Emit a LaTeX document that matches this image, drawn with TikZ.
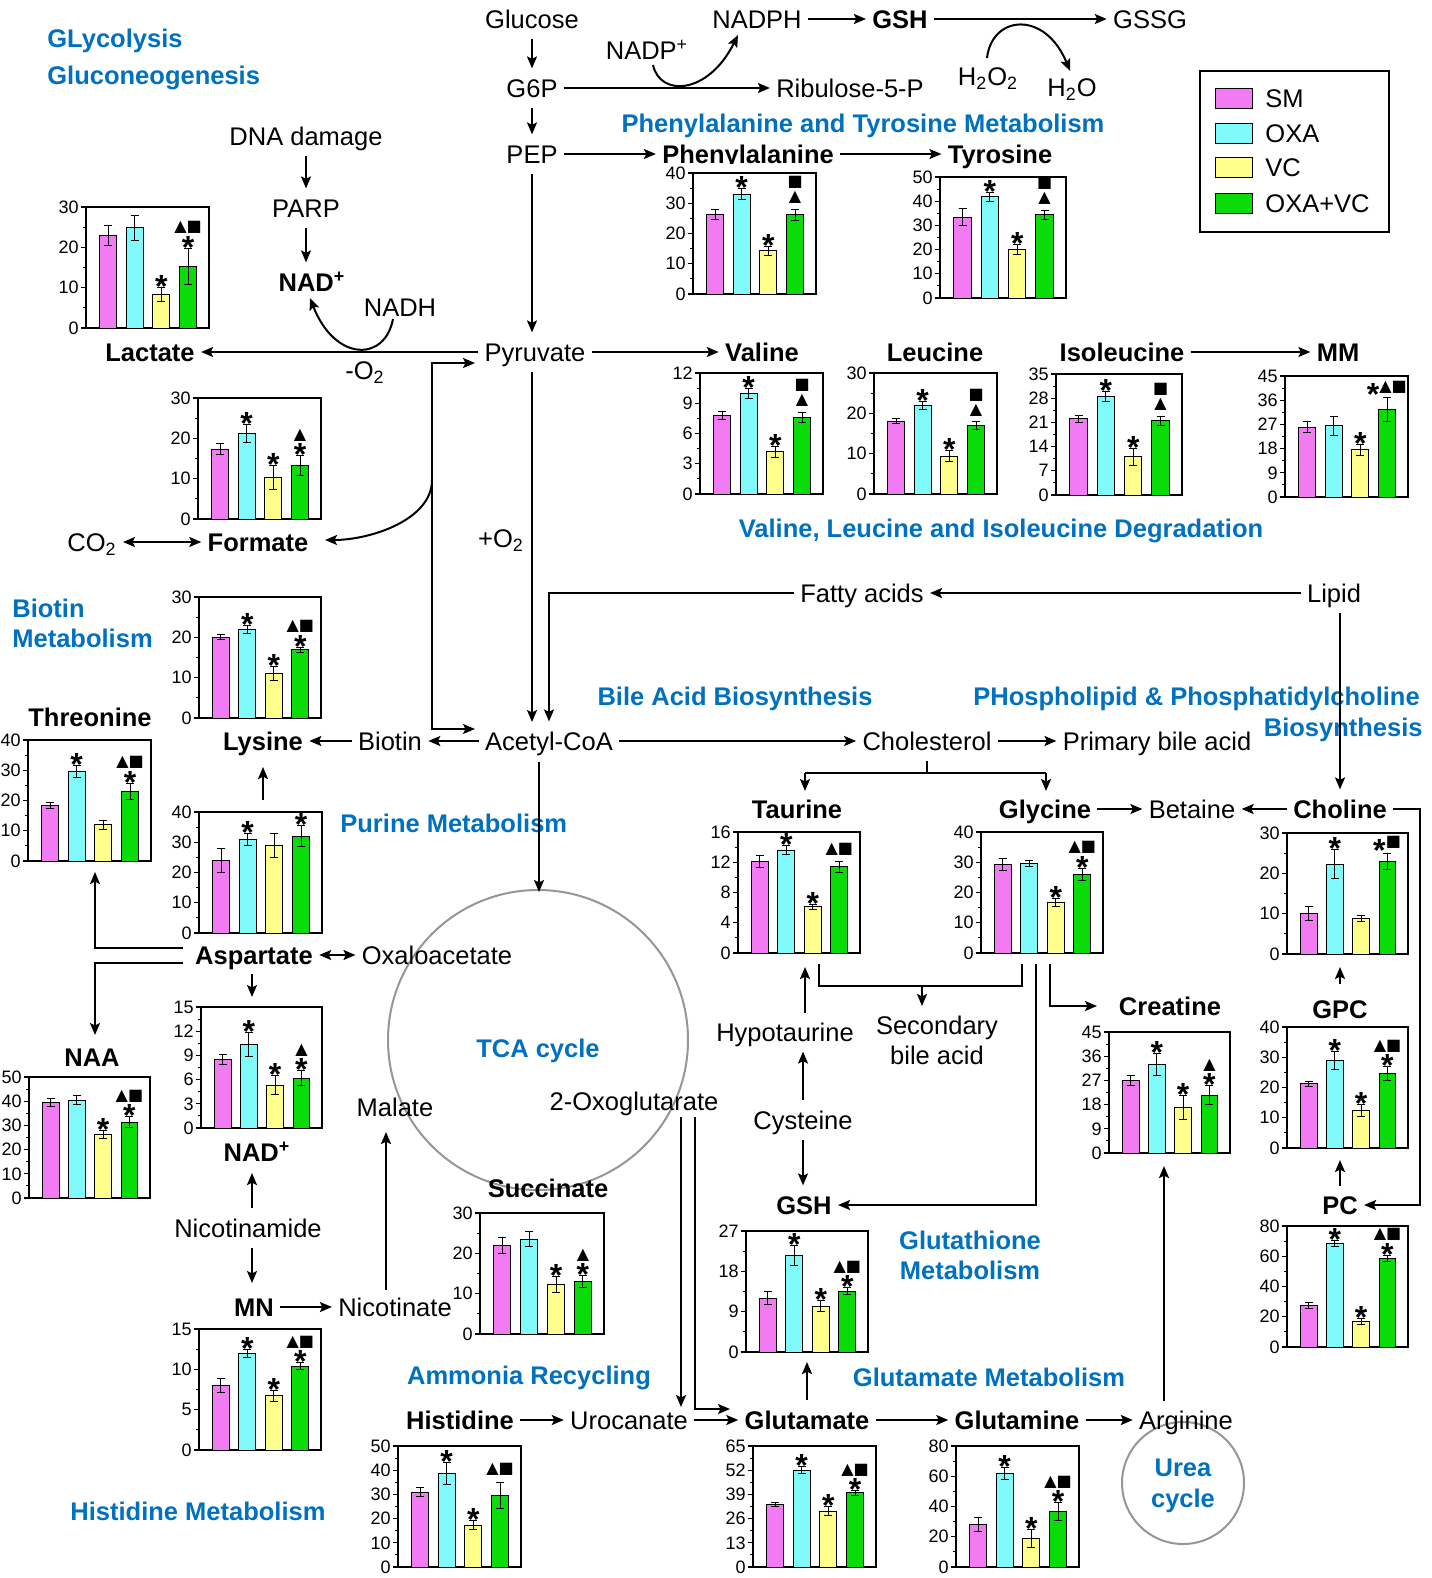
\documentclass[tikz,border=0pt]{standalone}
\usepackage{fontspec}
\setmainfont{Liberation Sans}
\newfontfamily\dejavu{DejaVu Sans}
\usetikzlibrary{arrows.meta}
\definecolor{bar0}{RGB}{242,122,242}
\definecolor{bar1}{RGB}{128,250,250}
\definecolor{bar2}{RGB}{255,255,140}
\definecolor{bar3}{RGB}{10,220,10}
\definecolor{pblue}{RGB}{0,112,192}
\definecolor{cgray}{RGB}{150,150,150}
\newcommand\fL{\fontsize{12.75pt}{15pt}\selectfont}
\newcommand\fT{\fontsize{9pt}{10pt}\selectfont}
\newcommand\fS{\fontsize{16pt}{16pt}\selectfont\bfseries}
\newcommand\fY{\dejavu\fontsize{8pt}{8pt}\selectfont}
\newcommand\annn{}
\newcommand\anns{\node[starn] at (\bcx,\beh+10) {*};}
\newcommand\annS{\anns\node[symn] at (\bcx,\beh-14) {▲■};}
\newcommand\annT{\anns\node[symn] at (\bcx,\beh-14) {▲};}
\newcommand\annQ{\node[symn] at (\bcx,\beh-5) {▲};\node[symn] at (\bcx,\beh-20) {■};}
\newcommand\annA{\node[symn] at (\bcx,\beh-6) {▲■};}
\newcommand\annH{\node[starn] at (\bcx-14,\beh+8) {*};\node[symn] at (\bcx+6,\beh-4) {▲■};}
\newcommand\annC{\node[starn] at (\bcx-8,\beh+8) {*};\node[symn] at (\bcx+6,\beh-4) {■};}
\newcommand\chart[7]{%
\begin{scope}[shift={(#2,#3)}]
 \node[draw, line width=0.6pt, minimum width=#4*0.5pt, minimum height=60.5pt, inner sep=0pt, outer sep=0pt] (#1) at (#4/2,60.5) {};
 \pgfmathtruncatemacro\nmaj{round(#5/#6)}
 \foreach \kk in {0,...,\nmaj}{
   \pgfmathsetmacro\tky{121-\kk*#6/#5*121}
   \pgfmathtruncatemacro\tklab{\kk*#6}
   \draw[line width=0.6pt] (0,\tky) -- (-5,\tky);
   \node[tickn] at (-7,\tky) {\tklab};
 }
 \foreach \kk in {1,...,\nmaj}{
   \pgfmathsetmacro\tky{121-(\kk-0.5)*#6/#5*121}
   \draw[line width=0.5pt] (0,\tky) -- (-3,\tky);
 }
 \foreach \vv/\ee/\an [count=\ii from 0] in {#7}{
   \pgfmathsetmacro\bbx{#4*13.5/123+\ii*#4*26.7/123}
   \pgfmathsetmacro\bbw{#4*17/123}
   \pgfmathsetmacro\bby{121-\vv/#5*121}
   \pgfmathsetmacro\beh{121-(\vv+\ee)/#5*121}
   \pgfmathsetmacro\bel{121-(\vv-\ee)/#5*121}
   \pgfmathsetmacro\bcx{\bbx+\bbw/2}
   \draw[line width=0.5pt, fill=bar\ii] (\bbx,121) rectangle (\bbx+\bbw,\bby);
   \draw[line width=0.5pt] (\bcx,\bel) -- (\bcx,\beh) (\bcx-4,\beh) -- (\bcx+4,\beh) (\bcx-4,\bel) -- (\bcx+4,\bel);
   \csname ann\an\endcsname
 }
\end{scope}}
\begin{document}
\begin{tikzpicture}[x=0.5pt,y=-0.5pt,
  lab/.style={font=\fL, text height=9.2pt, text depth=0pt, inner xsep=3pt, inner ysep=5pt},
  blab/.style={lab, font=\fL\bfseries},
  pw/.style={font=\fL\bfseries, text=pblue, inner sep=0pt, text height=9.2pt, text depth=0pt},
  arr/.style={line width=1pt, -{Stealth[length=6pt,width=5pt,inset=1.2pt]}},
  barr/.style={line width=1pt, {Stealth[length=6pt,width=5pt,inset=1.2pt]}-{Stealth[length=6pt,width=5pt,inset=1.2pt]}},
  ln/.style={line width=1pt},
  tickn/.style={anchor=east, inner sep=0pt, font=\fT},
  starn/.style={anchor=base, inner sep=0pt, font=\fS},
  symn/.style={anchor=south, inner sep=0pt, font=\fY}]
\fill[white] (0,0) rectangle (1431,1578);
\useasboundingbox (0,0) rectangle (1431,1578);
% circles
\draw[cgray, line width=1pt] (538,1040) circle [radius=150];
\draw[cgray, line width=1pt] (1183,1483) circle [radius=61];
% labels
\node[lab] (glucose) at (532,19) {Glucose};
\node[lab] (g6p) at (532,88) {G6P};
\node[lab] (pep) at (532,154) {PEP};
\node[lab] (ribu) at (850,88) {Ribulose-5-P};
\node[lab] (nadp) at (647,50) {NADP\textsuperscript{+}};
\node[lab] (nadph) at (757,19) {NADPH};
\node[blab] (gshA) at (900,19) {GSH};
\node[lab] (gssg) at (1150,19) {GSSG};
\node[lab] (hoo) at (988,76) {H\textsubscript{2}O\textsubscript{2}};
\node[lab] (ho) at (1072,87) {H\textsubscript{2}O};
\node[pw] (pwphe) at (863,123) {Phenylalanine and Tyrosine Metabolism};
\node[blab] (phe) at (748,154) {Phenylalanine};
\node[blab] (tyr) at (1000,154) {Tyrosine};
\node[pw, anchor=west] (pwgly1) at (47,38) {GLycolysis};
\node[pw, anchor=west] (pwgly2) at (47,75) {Gluconeogenesis};
\node[lab] (dna) at (306,136) {DNA damage};
\node[lab] (parp) at (306,208) {PARP};
\node[blab] (nadA) at (312,282) {NAD\textsuperscript{+}};
\node[lab] (nadh) at (400,307) {NADH};
\node[lab] (pyr) at (535,352) {Pyruvate};
\node[blab] (lac) at (150,352) {Lactate};
\node[lab] (mo2) at (365,370) {-O\textsubscript{2}};
\node[blab] (val) at (762,352) {Valine};
\node[blab] (leu) at (935,352) {Leucine};
\node[blab] (ile) at (1122,352) {Isoleucine};
\node[blab] (mm) at (1338,352) {MM};
\node[pw] (pwbcaa) at (1001,528) {Valine, Leucine and Isoleucine Degradation};
\node[lab] (co2) at (92,542) {CO\textsubscript{2}};
\node[blab] (form) at (258,542) {Formate};
\node[lab] (po2) at (501,538) {+O\textsubscript{2}};
\node[lab] (fatty) at (862,593) {Fatty acids};
\node[lab] (lipid) at (1334,593) {Lipid};
\node[pw, anchor=west] (pwbio1) at (12,608) {Biotin};
\node[pw, anchor=west] (pwbio2) at (12,638) {Metabolism};
\node[pw] (pwbile) at (735,696) {Bile Acid Biosynthesis};
\node[pw, anchor=west] (pwpl1) at (973,696) {PHospholipid \& Phosphatidylcholine};
\node[pw, anchor=east] (pwpl2) at (1423,727) {Biosynthesis};
\node[blab] (thr) at (90,717) {Threonine};
\node[blab] (lys) at (263,741) {Lysine};
\node[lab] (biotin) at (390,741) {Biotin};
\node[lab] (acoa) at (549,741) {Acetyl-CoA};
\node[lab] (chol) at (927,741) {Cholesterol};
\node[lab] (pba) at (1157,741) {Primary bile acid};
\node[pw, anchor=west] (pwpur) at (340,823) {Purine Metabolism};
\node[blab] (tau) at (797,809) {Taurine};
\node[blab] (glyc) at (1045,809) {Glycine};
\node[lab] (bet) at (1192,809) {Betaine};
\node[blab] (chol2) at (1340,809) {Choline};
\node[blab] (asp) at (254,955) {Aspartate};
\node[lab] (oaa) at (437,955) {Oxaloacetate};
\node[pw] (pwtca) at (538,1048) {TCA cycle};
\node[blab] (creat) at (1170,1006) {Creatine};
\node[blab] (gpc) at (1340,1009) {GPC};
\node[lab] (hypo) at (785,1032) {Hypotaurine};
\node[lab] (sec1) at (937,1025) {Secondary};
\node[lab] (sec2) at (937,1055) {bile acid};
\node[blab] (naa) at (92,1057) {NAA};
\node[lab] (mal) at (395,1107) {Malate};
\node[lab] (oxg) at (634,1101) {2-Oxoglutarate};
\node[lab] (cys) at (803,1120) {Cysteine};
\node[blab] (nadB) at (257,1152) {NAD\textsuperscript{+}};
\node[blab] (succ) at (548,1188) {Succinate};
\node[blab] (gshB) at (804,1205) {GSH};
\node[blab] (pc) at (1340,1205) {PC};
\node[lab] (nam) at (248,1228) {Nicotinamide};
\node[pw] (pwgsh1) at (970,1240) {Glutathione};
\node[pw] (pwgsh2) at (970,1270) {Metabolism};
\node[blab] (mn) at (254,1307) {MN};
\node[lab] (nic) at (395,1307) {Nicotinate};
\node[pw] (pwamm) at (529,1375) {Ammonia Recycling};
\node[pw] (pwglu) at (989,1377) {Glutamate Metabolism};
\node[blab] (his) at (460,1420) {Histidine};
\node[lab] (uro) at (629,1420) {Urocanate};
\node[blab] (glu) at (807,1420) {Glutamate};
\node[blab] (gln) at (1017,1420) {Glutamine};
\node[lab] (arg) at (1186,1420) {Arginine};
\node[pw] (pwurea1) at (1183,1467) {Urea};
\node[pw] (pwurea2) at (1183,1498) {cycle};
\node[pw] (pwhis) at (198,1511) {Histidine Metabolism};
\fill[white] (650,164) rectangle (840,172);
% legend
\draw[line width=1pt] (1200,71) rectangle (1389,232);
\draw[line width=0.4pt, fill=bar0] (1215,88) rectangle (1252,108);
\draw[line width=0.4pt, fill=bar1] (1215,123) rectangle (1252,143);
\draw[line width=0.4pt, fill=bar2] (1215,157) rectangle (1252,177);
\draw[line width=0.4pt, fill=bar3] (1215,193) rectangle (1252,213);
\node[lab, anchor=west] (lgA) at (1259,98) {SM};
\node[lab, anchor=west] (lgB) at (1259,133) {OXA};
\node[lab, anchor=west] (lgC) at (1259,167) {VC};
\node[lab, anchor=west] (lgD) at (1259,203) {OXA+VC};
% charts
\chart{chLac}{86}{207}{123}{30}{10}{23/2.5/n,24.8/3/n,8.3/1.8/s,15.3/4.5/S}
\chart{chPhe}{693}{173}{123}{40}{10}{26.3/1.7/n,33/1.8/s,14.3/1.5/s,26.2/1.8/Q}
\chart{chTyr}{940}{177}{126}{50}{10}{33.3/3.5/n,41.8/2/s,20/2/s,34.3/2/Q}
\chart{chVal}{700}{373}{123}{12}{3}{7.8/0.4/n,10/0.5/s,4.2/0.55/s,7.6/0.5/Q}
\chart{chLeu}{874}{373}{123}{30}{10}{18/0.6/n,22/1/s,9.4/1.3/s,17/1/Q}
\chart{chIle}{1056}{374}{126}{35}{7}{22/1/n,28.5/1.5/s,11/2.5/s,21.5/1.3/Q}
\chart{chMM}{1285}{376}{123}{45}{9}{26/2/n,26.5/3.5/n,17.5/2/s,32.5/4.5/H}
\chart{chForm}{198}{398}{123}{30}{10}{17.3/1.3/n,21.2/2.3/s,10.2/3/s,13.2/2.5/T}
\chart{chLys}{199}{597}{122}{30}{10}{20/0.6/n,22/1/s,11/1.7/s,16.9/0.7/S}
\chart{chThr}{28}{740}{123}{40}{10}{18.5/1/n,29.7/2/s,12/1.5/n,23/2.7/S}
\chart{chPur}{199}{812}{123}{40}{10}{24/4/n,31/2/s,29/4/n,32/3.5/s}
\chart{chNAA}{29}{1077}{121}{50}{10}{39.5/1.8/n,40.5/1.8/n,26.3/1.8/s,31.3/2.2/S}
\chart{chNAD}{201}{1007}{121}{15}{3}{8.5/0.6/n,10.4/1.5/s,5.3/1.2/s,6.2/0.9/T}
\chart{chMN}{199}{1329}{122}{15}{5}{8/0.9/n,12/0.5/s,6.7/0.7/s,10.4/0.4/S}
\chart{chSuc}{480}{1213}{124}{30}{10}{22/2/n,23.5/1.8/n,12.3/2/s,13/1.5/T}
\chart{chGSH}{746}{1231}{122}{27}{9}{12/1.5/n,21.5/2.3/s,10.2/1.2/s,13.6/0.8/S}
\chart{chHis}{398}{1446}{123}{50}{10}{31/2/n,38.5/4.5/s,17.3/2/s,29.5/5.5/A}
\chart{chGlu}{753}{1446}{123}{65}{13}{33.5/1.2/n,52/2/s,30/2.5/s,39.8/1.2/S}
\chart{chGln}{956}{1446}{123}{80}{20}{28/4.5/n,62/4/s,19/6/s,36.5/6/S}
\chart{chTau}{738}{832}{122}{16}{4}{12.1/0.8/n,13.6/0.6/s,6.1/0.3/s,11.4/0.7/A}
\chart{chGly}{981}{832}{122}{40}{10}{29.3/2/n,29.7/1/n,16.7/1.2/s,26/2/S}
\chart{chCre}{1109}{1032}{121}{45}{9}{27/2/n,33/4/s,17/4.5/s,21.5/3.5/T}
\chart{chCho}{1287}{833}{121}{30}{10}{10/1.8/n,22.2/3.6/s,8.8/0.8/n,23/2/C}
\chart{chGPC}{1287}{1027}{121}{40}{10}{21.2/0.7/n,29/3/s,12.5/2/s,24.5/2.3/S}
\chart{chPC}{1287}{1226}{121}{80}{20}{27.5/2/n,68.5/2/s,17/2/s,58.5/2.2/S}
% connectors
\draw[arr] (glucose.south) -- (g6p.north);
\draw[arr] (g6p.south) -- (pep.north);
\draw[arr] (pep.south) -- (pep.south |- pyr.north);
\draw[arr] (g6p) -- (ribu);
\draw[arr] (653,65) .. controls (660,97) and (708,95) .. (738,35);
\draw[arr] (nadph) -- (gshA);
\draw[arr] (gshA) -- (gssg);
\draw[arr] (987,58) .. controls (992,15) and (1045,10) .. (1070,71);
\draw[arr] (pep) -- (phe);
\draw[arr] (phe) -- (tyr);
\draw[arr] (dna.south) -- (parp.north);
\draw[arr] (parp.south) -- (parp.south |- nadA.north);
\draw[arr] (393,319) .. controls (385,362) and (335,362) .. (310,298);
\draw[arr] (pyr) -- (lac);
\draw[arr] (pyr) -- (val);
\draw[arr] (ile) -- (mm);
\draw[barr] (475,363) -- (432,363) -- (432,729) -- (475,729);
\draw[arr] (432,480) .. controls (432,520) and (370,540) .. (325,540);
\draw[barr] (co2) -- (form);
\draw[arr] (pep.south |- pyr.south) -- (532,722);
\draw[arr] (fatty.west) -| (acoa.north);
\draw[arr] (lipid) -- (fatty);
\draw[arr] (chol2.north |- lipid.south) -- (chol2.north);
\draw[arr] (acoa) -- (biotin);
\draw[arr] (biotin) -- (lys);
\draw[arr] (acoa) -- (chol);
\draw[arr] (chol) -- (pba);
\draw[ln] (chol.south) -- (927,773);
\draw[ln] (805,773) -- (1046,773);
\draw[arr] (805,773) -- (805,791);
\draw[arr] (1046,773) -- (1046,791);
\draw[arr] (glyc) -- (bet);
\draw[arr] (chol2) -- (bet);
\draw[arr] (chol2.east) -- (1420,809) |- (pc.east);
\draw[arr] (539,762) -- (539,892);
\draw[barr] (asp) -- (oaa);
\draw[arr] (183,948) -- (95,948) -- (95,872);
\draw[arr] (183,963) -- (95,963) -- (95,1035);
\draw[arr] (252,974) -- (252,997);
\draw[arr] (252,1208) -- (252,1173);
\draw[arr] (252,1248) -- (252,1283);
\draw[arr] (mn) -- (nic);
\draw[arr] (386,1290) -- (386,1132);
\draw[arr] (263,800) -- (263,767);
\draw[arr] (681,1117) -- (681,1407);
\draw[arr] (695,1117) -- (695,1409) -- (730,1409);
\draw[arr] (his) -- (uro);
\draw[arr] (uro) -- (glu);
\draw[arr] (glu) -- (gln);
\draw[arr] (gln) -- (arg);
\draw[arr] (1164,1401) -- (1164,1166);
\draw[arr] (807,1400) -- (807,1362);
\draw[arr] (cys.south) -- (cys.south |- gshB.north);
\draw[arr] (cys.north) -- (cys.north |- hypo.south);
\draw[arr] (805,1013) -- (805,967);
\draw[ln] (819,964) -- (819,986) -- (1022,986) -- (1022,964);
\draw[arr] (922,986) -- (922,1006);
\draw[arr] (1036,964) -- (1036,1205) -- (gshB.east);
\draw[arr] (1050,964) -- (1050,1006) -- (1097,1006);
\draw[arr] (1340,984) -- (1340,967);
\draw[arr] (1340,1186) -- (1340,1160);
\end{tikzpicture}
\end{document}
